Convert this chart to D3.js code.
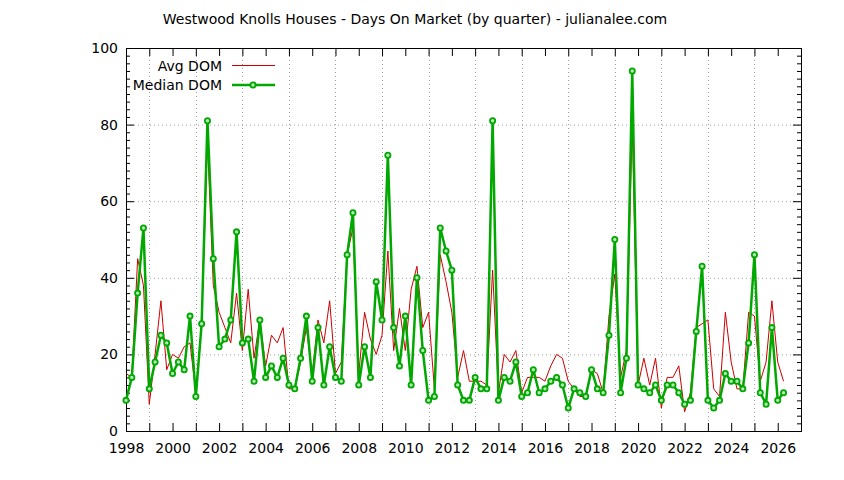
<!DOCTYPE html>
<html>
<head>
<meta charset="utf-8">
<script src="https://cdn.jsdelivr.net/npm/d3@7"></script>
<style>
	body { margin: 0; background: #fff; }
	svg { font-family: "DejaVu Sans", sans-serif; font-size: 14px; }
</style>
</head>
<body>
<script>
// quarterly data, first quarter is 1998 Q1
var startYear = 1998;

var avgDom = [
	15, 14, 45, 38, 7, 20, 34, 16, 20, 19, 22, 23, 10, 28, 76, 38, 31, 27, 23, 36,
	21, 37, 19, 29, 17, 25, 23, 27, 11, 11, 18, 27, 15, 29, 23, 34, 15, 18, 46, 53,
	15, 31, 24, 20, 25, 47, 21, 32, 21, 37, 43, 27, 31, 11, 46, 39, 31, 14, 21, 13,
	13, 13, 12, 42, 10, 20, 18, 21, 10, 14, 14, 14, 13, 17, 20, 19, 13, 11, 9, 9,
	16, 15, 10, 30, 41, 14, 21, 80, 12, 19, 12, 19, 6, 14, 14, 17, 5, 10, 27, 28,
	29, 11, 9, 31, 18, 11, 11, 31, 30, 13, 18, 34, 18, 13
];

var medianDom = [
	8, 14, 36, 53, 11, 18, 25, 23, 15, 18, 16, 30, 9, 28, 81, 45, 22, 24, 29, 52,
	23, 24, 13, 29, 14, 17, 14, 19, 12, 11, 19, 30, 13, 27, 12, 22, 14, 13, 46, 57,
	12, 22, 14, 39, 29, 72, 27, 17, 30, 12, 40, 21, 8, 9, 53, 47, 42, 12, 8, 8,
	14, 11, 11, 81, 8, 14, 13, 18, 9, 10, 16, 10, 11, 13, 14, 12, 6, 11, 10, 9,
	16, 11, 10, 25, 50, 10, 19, 94, 12, 11, 10, 12, 8, 12, 12, 10, 7, 8, 26, 43,
	8, 6, 8, 15, 13, 13, 11, 23, 46, 10, 7, 27, 8, 10
];

var yTicks = [0, 20, 40, 60, 80, 100];
var xLabels = [1998, 2000, 2002, 2004, 2006, 2008, 2010, 2012, 2014, 2016, 2018, 2020, 2022, 2024, 2026];

var title = "Westwood Knolls Houses - Days On Market (by quarter) - julianalee.com";

var chart = {
	w: 844,
	h: 480,
	left: 126, right: 801, top: 48, bottom: 431,
	red: "#cc0000",
	green: "#00a800",

	init: function () {
		var c = this;
		var svg = d3.select("body").append("svg")
			.attr("width", c.w).attr("height", c.h);

		var x = d3.scaleLinear().domain([startYear, 2027]).range([c.left, c.right]);
		var y = d3.scaleLinear().domain([0, 100]).range([c.bottom, c.top]);
		var qx = function (d, i) { return x(startYear + i / 4); };

		// grid, dotted
		var grid = svg.append("g").attr("stroke", "#a0a0a0").attr("stroke-dasharray", "1,3");
		grid.selectAll(".gy").data(yTicks.slice(1, -1)).enter().append("line")
			.attr("x1", c.left).attr("x2", c.right)
			.attr("y1", function (d) { return y(d) + 0.5; })
			.attr("y2", function (d) { return y(d) + 0.5; });
		grid.selectAll(".gx").data(d3.range(1999, 2027, 2)).enter().append("line")
			.attr("y1", c.top).attr("y2", c.bottom)
			.attr("x1", function (d) { return Math.round(x(d)) + 0.5; })
			.attr("x2", function (d) { return Math.round(x(d)) + 0.5; });

		// axes, gnuplot like (ticks inward on all four sides)
		var yAxis = d3.axisLeft(y).tickValues(d3.range(0, 101, 2)).tickSizeOuter(0)
			.tickSize(-4).tickFormat(function (d) { return yTicks.indexOf(d) >= 0 ? d : ""; });
		var gy = svg.append("g").attr("transform", "translate(" + c.left + ",0)").call(yAxis);
		gy.selectAll(".tick line").filter(function (d) { return d % 20 == 0; }).attr("x2", 8);
		gy.selectAll("text").attr("x", -8);

		var gyr = svg.append("g").attr("transform", "translate(" + c.right + ",0)")
			.call(d3.axisRight(y).tickValues(d3.range(0, 101, 2)).tickSizeOuter(0).tickSize(-4).tickFormat(""));
		gyr.selectAll(".tick line").filter(function (d) { return d % 20 == 0; }).attr("x2", -8);

		var years = d3.range(1998, 2028);
		var xAxis = d3.axisBottom(x).tickValues(years).tickSizeOuter(0).tickSize(-8)
			.tickFormat(function (d) { return xLabels.indexOf(d) >= 0 ? d : ""; });
		var gx = svg.append("g").attr("transform", "translate(0," + c.bottom + ")").call(xAxis);
		gx.selectAll("text").attr("y", 12);

		svg.append("g").attr("transform", "translate(0," + c.top + ")")
			.call(d3.axisTop(x).tickValues(years).tickSizeOuter(0).tickSize(-8).tickFormat(""));

		svg.selectAll(".domain").remove();
		svg.selectAll(".tick text").attr("font-family", "DejaVu Sans, sans-serif")
			.attr("font-size", 14).attr("fill", "#000");
		svg.selectAll(".tick line").attr("stroke", "#000");

		svg.append("rect")
			.attr("x", c.left + 0.5).attr("y", c.top + 0.5)
			.attr("width", c.right - c.left).attr("height", c.bottom - c.top)
			.attr("fill", "none").attr("stroke", "#000");

		// series
		var line = d3.line().x(qx).y(function (d) { return y(d); });

		svg.append("path").datum(avgDom)
			.attr("d", line).attr("fill", "none")
			.attr("stroke", c.red).attr("stroke-width", 1);

		svg.append("path").datum(medianDom)
			.attr("d", line).attr("fill", "none")
			.attr("stroke", c.green).attr("stroke-width", 2.5).attr("stroke-linejoin", "round");

		svg.append("g").selectAll("circle").data(medianDom).enter().append("circle")
			.attr("cx", qx).attr("cy", function (d) { return y(d); })
			.attr("r", 2.6).attr("fill", "#b8e6b8")
			.attr("stroke", c.green).attr("stroke-width", 1.8);

		// title
		svg.append("text").attr("x", 415).attr("y", 24)
			.attr("text-anchor", "middle").text(title);

		// legend
		var lg = svg.append("g");
		lg.append("text").attr("x", 222).attr("y", 71).attr("text-anchor", "end").text("Avg DOM");
		lg.append("line").attr("x1", 232).attr("x2", 275).attr("y1", 65.5).attr("y2", 65.5)
			.attr("stroke", c.red);
		lg.append("text").attr("x", 222).attr("y", 90).attr("text-anchor", "end").text("Median DOM");
		lg.append("line").attr("x1", 232).attr("x2", 275).attr("y1", 85).attr("y2", 85)
			.attr("stroke", c.green).attr("stroke-width", 2.5);
		lg.append("circle").attr("cx", 253).attr("cy", 85).attr("r", 2.6)
			.attr("fill", "#b8e6b8").attr("stroke", c.green).attr("stroke-width", 1.8);
	}
};

chart.init();
</script>
</body>
</html>
